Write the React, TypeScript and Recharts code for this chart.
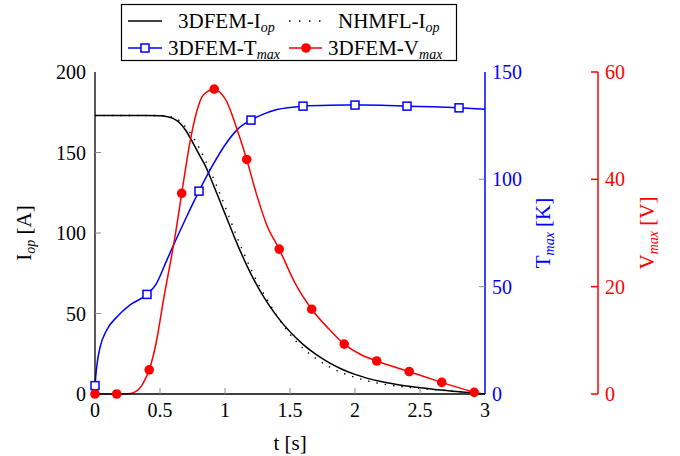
import { ComposedChart, Line, XAxis, YAxis } from 'recharts'

// ─── Data ─────────────────────────────────────────────────────────────────────

// current, 3DFEM and NHMFL
const tCurrent = [0, 0.2, 0.4, 0.5, 0.55, 0.6, 0.65, 0.7, 0.75, 0.8, 0.85, 0.9, 0.95, 1.0, 1.1, 1.2, 1.3, 1.4, 1.5, 1.6, 1.7, 1.8, 1.9, 2.0, 2.2, 2.4, 2.6, 2.8, 3.0]
const iFem = [173, 173, 173, 172.8, 172.3, 171.2, 168.5, 163.5, 156.5, 149, 141.5, 132, 122, 112, 92, 74.5, 60, 48.2, 38.6, 30.8, 24.6, 19.5, 15.4, 12.2, 7.7, 4.9, 2.9, 1.4, 0]
const iNhmfl = [173, 173, 173, 172.9, 172.6, 171.8, 169.8, 165.5, 160, 153, 145, 136, 126.5, 116.5, 96, 77.5, 62, 48.5, 37, 28.5, 22, 17, 13.2, 10.3, 6.4, 4.2, 2.8, 1.5, 0]

// max temperature
const tTempCurve = [0, 0.013, 0.04, 0.09, 0.17, 0.27, 0.4, 0.47, 0.55, 0.62, 0.7, 0.8, 0.9, 1.0, 1.1, 1.2, 1.3, 1.4, 1.6, 1.8, 2.0, 2.2, 2.4, 2.6, 2.8, 3.0]
const tempCurve = [3.9, 12.7, 22, 29.8, 36, 41.5, 46.4, 51.2, 62, 71.5, 82, 94.5, 106, 116, 123.5, 127.6, 130.5, 132.5, 134.1, 134.5, 134.6, 134.5, 134.1, 133.8, 133.3, 132.7]
const tTempMarks = [0, 0.4, 0.8, 1.2, 1.6, 2.0, 2.4, 2.8]
const tempMarks = [3.9, 46.4, 94.5, 127.6, 134.1, 134.6, 134.1, 133.3]

// max voltage
const tVoltCurve = [0, 0.1, 0.167, 0.25, 0.3, 0.37, 0.417, 0.47, 0.53, 0.58, 0.62, 0.667, 0.731, 0.782, 0.833, 0.917, 0.97, 1.013, 1.05, 1.09, 1.167, 1.244, 1.321, 1.417, 1.54, 1.667, 1.8, 1.917, 2.04, 2.167, 2.417, 2.667, 2.917]
const voltCurve = [0, 0, 0, 0.05, 0.3, 2, 4.5, 9.5, 18, 24.5, 30, 37.4, 47, 52.6, 55.7, 56.8, 56, 54.5, 52.3, 49.5, 43.7, 37.1, 31.5, 27.0, 20.6, 15.8, 12.1, 9.3, 7.4, 6.15, 4.16, 2.17, 0.3]
const tVoltMarks = [0, 0.167, 0.417, 0.667, 0.917, 1.167, 1.417, 1.667, 1.917, 2.167, 2.417, 2.667, 2.917]
const voltMarks = [0, 0, 4.5, 37.4, 56.8, 43.7, 27.0, 15.8, 9.3, 6.15, 4.16, 2.17, 0.3]

const tTicks = [0, 0.5, 1, 1.5, 2, 2.5, 3]
const iTicks = [0, 50, 100, 150, 200]
const tempTicks = [0, 50, 100, 150]
const voltTicks = [0, 20, 40, 60]

// ─── Style ────────────────────────────────────────────────────────────────────

const FONT = '"Liberation Serif", "DejaVu Serif", serif'
const FS = 20
const FS_LEG = 21
const SUB = 14
const BLUE = '#0000ff'
const RED = '#ff0000'
const TICK_GRAY = '#8a8a8a'

const pts = (ts: number[], vs: number[]) => ts.map((t, i) => ({ t, v: vs[i] }))

// ─── Ticks ────────────────────────────────────────────────────────────────────

function LeftTick(props: any) {
  const { x, y, payload } = props
  const ax = x + 9
  const v = payload.value
  return (
    <g>
      {v !== 0 && v !== 200 && <line x1={ax} x2={ax + 6} y1={y} y2={y} stroke={TICK_GRAY} />}
      <text x={x} y={y} dy="0.35em" textAnchor="end" fontSize={FS} fontFamily={FONT} fill="#000">{v}</text>
    </g>
  )
}

function TempTick(props: any) {
  const { x, y, payload } = props
  const ax = x - 7
  const v = payload.value
  return (
    <g>
      {v !== 0 && v !== 150 && <line x1={ax - 6} x2={ax} y1={y} y2={y} stroke={TICK_GRAY} />}
      <text x={x} y={y} dy="0.35em" textAnchor="start" fontSize={FS} fontFamily={FONT} fill={BLUE}>{v}</text>
    </g>
  )
}

function VoltTick(props: any) {
  const { x, y, payload } = props
  const ax = x - 7
  return (
    <g>
      <line x1={ax - 7} x2={ax} y1={y} y2={y} stroke={RED} strokeWidth={1.5} />
      <text x={x} y={y} dy="0.35em" textAnchor="start" fontSize={FS} fontFamily={FONT} fill={RED}>{payload.value}</text>
    </g>
  )
}

function BottomTick(props: any) {
  const { x, y, payload } = props
  const ay = y - 16
  const v = payload.value
  return (
    <g>
      {v !== 0 && v !== 3 && <line x1={x} x2={x} y1={ay - 6} y2={ay} stroke={TICK_GRAY} />}
      <text x={x} y={y} dy="0.35em" textAnchor="middle" fontSize={FS} fontFamily={FONT} fill="#000">{v}</text>
    </g>
  )
}

function TopTick(props: any) {
  const { x, y, payload } = props
  const v = payload.value
  if (v === 0 || v === 3) return <g />
  return <line x1={x} x2={x} y1={y} y2={y + 6} stroke={TICK_GRAY} />
}

// ─── Axis titles ──────────────────────────────────────────────────────────────

function VTitle({ cx, cy, main, sub, unit, color }: { cx: number; cy: number; main: string; sub: string; unit: string; color: string }) {
  return (
    <text x={cx} y={cy} transform={`rotate(-90, ${cx}, ${cy})`} textAnchor="middle" dy="0.35em" fontSize={FS_LEG} fontFamily={FONT} fill={color}>
      <tspan>{main}</tspan>
      <tspan fontStyle="italic" fontSize={SUB} dy={4}>{sub}</tspan>
      <tspan dy={-4}>{` [${unit}]`}</tspan>
    </text>
  )
}

// ─── Markers ──────────────────────────────────────────────────────────────────

const squareDot = (p: any) => (
  <rect key={`sq-${p.index}`} x={p.cx - 4} y={p.cy - 4} width={8} height={8} fill="#fff" stroke={BLUE} strokeWidth={1.5} />
)
const circleDot = (p: any) => <circle key={`c-${p.index}`} cx={p.cx} cy={p.cy} r={4.8} fill={RED} />

// ─── Legend ───────────────────────────────────────────────────────────────────

function LegendText({ x, y, main, sub }: { x: number; y: number; main: string; sub: string }) {
  return (
    <text x={x} y={y} dy="0.35em" fontSize={FS_LEG} fontFamily={FONT} fill="#000">
      <tspan>{main}</tspan>
      <tspan fontStyle="italic" fontSize={SUB} dy={4}>{sub}</tspan>
    </text>
  )
}

function LegendBox() {
  const r1 = 21
  const r2 = 48
  return (
    <svg width={680} height={66} style={{ position: 'absolute', left: 0, top: 0 }}>
      <rect x={121.5} y={4.5} width={335} height={56} fill="#fff" stroke="#000" strokeWidth={1.2} />
      <line x1={128} x2={162} y1={r1} y2={r1} stroke="#000" strokeWidth={1.5} />
      <LegendText x={178} y={r1} main="3DFEM-I" sub="op" />
      <line x1={289} x2={321} y1={r1} y2={r1} stroke="#000" strokeWidth={1.5} strokeDasharray="1.5 8.5" />
      <LegendText x={338} y={r1} main="NHMFL-I" sub="op" />
      <line x1={128} x2={162} y1={r2} y2={r2} stroke={BLUE} strokeWidth={1.5} />
      <rect x={141} y={r2 - 4} width={8} height={8} fill="#fff" stroke={BLUE} strokeWidth={1.5} />
      <LegendText x={168} y={r2} main="3DFEM-T" sub="max" />
      <line x1={289} x2={322} y1={r2} y2={r2} stroke={RED} strokeWidth={1.5} />
      <circle cx={306} cy={r2} r={4.8} fill={RED} />
      <LegendText x={328} y={r2} main="3DFEM-V" sub="max" />
    </svg>
  )
}

// ─── Chart ────────────────────────────────────────────────────────────────────

export default function App() {
  return (
    <div style={{ position: 'absolute', left: 0, top: 0, width: 680, height: 456, background: '#fff' }}>
      <ComposedChart width={680} height={456} margin={{ top: 72, right: 0, bottom: 0, left: 0 }}>
        <XAxis
          xAxisId="b" dataKey="t" type="number" domain={[0, 3]} ticks={tTicks} interval={0}
          height={62} tickSize={0} tickMargin={16} tick={BottomTick}
          axisLine={{ stroke: '#000', strokeWidth: 1.3 }}
          label={{
            content: (p: any) => {
              const vb = p.viewBox
              return (
                <text x={vb.x + vb.width / 2} y={vb.y + 49} dy="0.35em" textAnchor="middle" fontSize={FS_LEG} fontFamily={FONT}>t [s]</text>
              )
            },
          }}
        />
        <XAxis
          xAxisId="top" orientation="top" dataKey="t" type="number" domain={[0, 3]} ticks={tTicks} interval={0}
          height={0} tickSize={0} tickMargin={0} tick={TopTick}
          axisLine={{ stroke: '#000', strokeWidth: 1.3 }}
        />
        <YAxis
          yAxisId="I" domain={[0, 200]} ticks={iTicks} interval={0} width={95}
          tickSize={0} tickMargin={9} tick={LeftTick}
          axisLine={{ stroke: '#000', strokeWidth: 1.3 }}
          label={{
            content: (p: any) => {
              const vb = p.viewBox
              return <VTitle cx={vb.x + 24} cy={vb.y + vb.height / 2} main="I" sub="op" unit="A" color="#000" />
            },
          }}
        />
        <YAxis
          yAxisId="T" orientation="right" domain={[0, 150]} ticks={tempTicks} interval={0} width={113}
          tickSize={0} tickMargin={7} tick={TempTick}
          axisLine={{ stroke: BLUE, strokeWidth: 1.5 }}
          label={{
            content: (p: any) => {
              const vb = p.viewBox
              return <VTitle cx={vb.x + 58} cy={vb.y + vb.height / 2} main="T" sub="max" unit="K" color={BLUE} />
            },
          }}
        />
        <YAxis
          yAxisId="V" orientation="right" domain={[0, 60]} ticks={voltTicks} interval={0} width={82}
          tickSize={0} tickMargin={7} tick={VoltTick}
          axisLine={{ stroke: RED, strokeWidth: 1.5 }}
          label={{
            content: (p: any) => {
              const vb = p.viewBox
              return <VTitle cx={vb.x + 49} cy={vb.y + vb.height / 2} main="V" sub="max" unit="V" color={RED} />
            },
          }}
        />

        <Line xAxisId="b" yAxisId="I" data={pts(tCurrent, iFem)} dataKey="v" type="monotone"
          stroke="#000" strokeWidth={1.5} dot={false} activeDot={false} isAnimationActive={false} />
        <Line xAxisId="b" yAxisId="I" data={pts(tCurrent, iNhmfl)} dataKey="v" type="monotone"
          stroke="#000" strokeWidth={1.4} strokeDasharray="1.4 7" dot={false} activeDot={false} isAnimationActive={false} />

        <Line xAxisId="b" yAxisId="T" data={pts(tTempCurve, tempCurve)} dataKey="v" type="monotone"
          stroke={BLUE} strokeWidth={1.5} dot={false} activeDot={false} isAnimationActive={false} />
        <Line xAxisId="b" yAxisId="T" data={pts(tTempMarks, tempMarks)} dataKey="v"
          stroke="none" dot={squareDot} activeDot={false} isAnimationActive={false} />

        <Line xAxisId="b" yAxisId="V" data={pts(tVoltCurve, voltCurve)} dataKey="v" type="monotone"
          stroke={RED} strokeWidth={1.5} dot={false} activeDot={false} isAnimationActive={false} />
        <Line xAxisId="b" yAxisId="V" data={pts(tVoltMarks, voltMarks)} dataKey="v"
          stroke="none" dot={circleDot} activeDot={false} isAnimationActive={false} />
      </ComposedChart>
      <LegendBox />
    </div>
  )
}
